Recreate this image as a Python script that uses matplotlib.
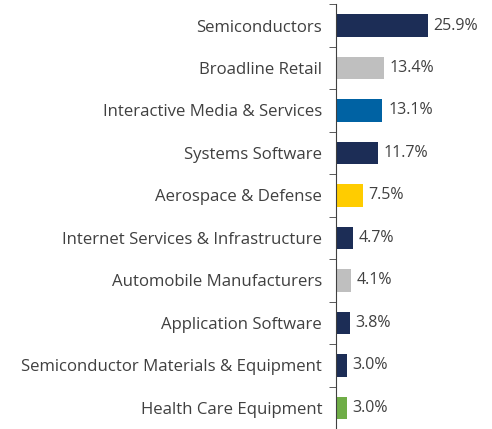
import matplotlib
matplotlib.use("Agg")
import matplotlib.pyplot as plt
import numpy as np

plt.rcParams['font.family'] = ['Open Sans', 'DejaVu Sans']

categories = ["Semiconductors", "Broadline Retail", "Interactive Media & Services",
              "Systems Software", "Aerospace & Defense", "Internet Services & Infrastructure",
              "Automobile Manufacturers", "Application Software",
              "Semiconductor Materials & Equipment", "Health Care Equipment"]
values = [25.9, 13.4, 13.1, 11.7, 7.5, 4.7, 4.1, 3.8, 3.0, 3.0]
colors = ["#1c2d56", "#bfbfbf", "#0062a3", "#1c2d56", "#ffcc00",
          "#1c2d56", "#bfbfbf", "#1c2d56", "#1c2d56", "#6fad47"]

fig = plt.figure(figsize=(4.92, 4.29), dpi=100)
ax = fig.add_axes([0.683, 0.0, 0.317, 0.99])

pos = np.arange(len(categories))
ax.barh(pos, values, height=0.53, color=colors)
ax.set_ylim(len(categories) - 0.5, -0.5)
ax.set_xlim(0, 44)

for p, v in zip(pos, values):
    ax.text(v + 1.6, p, "%.1f%%" % v, va='center', ha='left', fontsize=11.5, color='#404040')

ax.set_yticks(pos)
ax.set_yticklabels(categories, fontsize=12.1, color='#404040')
ax.tick_params(axis='y', which='major', length=0, pad=10)
ax.set_yticks(np.arange(-0.5, len(categories)), minor=True)
ax.tick_params(axis='y', which='minor', length=5, color='#404040')
ax.set_xticks([])
for s in ['top', 'right', 'bottom']:
    ax.spines[s].set_visible(False)
ax.spines['left'].set_color('#404040')

fig.savefig("out.png", dpi=100)
